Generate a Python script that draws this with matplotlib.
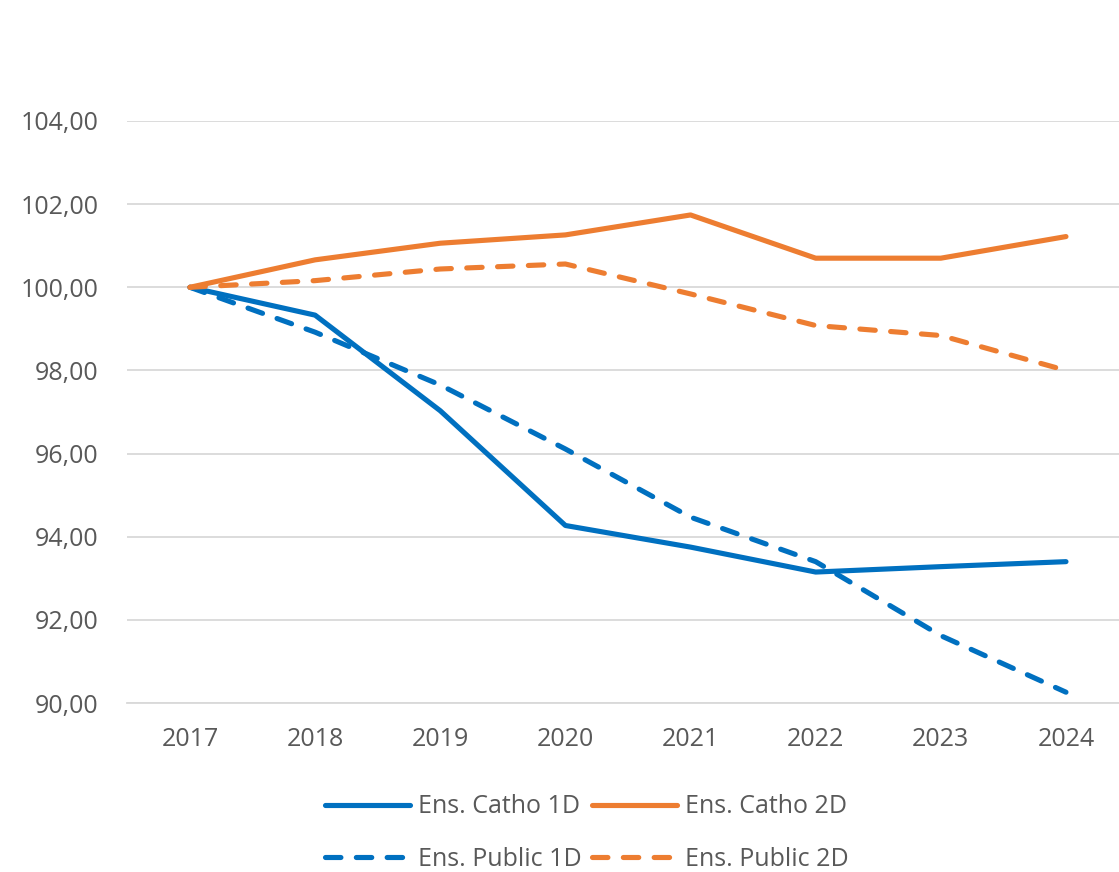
import matplotlib.pyplot as plt
from matplotlib.ticker import FuncFormatter

# données (base 100 en 2017)
annees = ["2017", "2018", "2019", "2020", "2021", "2022", "2023", "2024"]
catho_1d = [100.00, 99.33, 97.03, 94.27, 93.75, 93.15, 93.28, 93.40]
catho_2d = [100.00, 100.66, 101.06, 101.26, 101.74, 100.70, 100.70, 101.22]
public_1d = [100.00, 98.92, 97.65, 96.11, 94.47, 93.40, 91.62, 90.26]
public_2d = [100.00, 100.16, 100.44, 100.56, 99.84, 99.08, 98.84, 98.00]

bleu = "#0070C0"
orange = "#ED7D31"
gris_txt = "#595959"
gris_grille = "#D9D9D9"

plt.rcParams['font.family'] = ['Open Sans', 'DejaVu Sans']

fig = plt.figure(figsize=(11.19, 8.72), dpi=100)
ax = fig.add_axes([127.4 / 1119, 1 - 703 / 872, 1 - 127.4 / 1119, (703 - 121) / 872])

x = range(len(annees))
tirets = (0, (3, 3))
ax.plot(x, catho_1d, color=bleu, lw=3.7, label="Ens. Catho 1D", solid_capstyle='round')
ax.plot(x, public_1d, color=bleu, lw=3.7, ls=tirets, dash_capstyle='round', label="Ens. Public 1D")
ax.plot(x, catho_2d, color=orange, lw=3.7, label="Ens. Catho 2D", solid_capstyle='round')
ax.plot(x, public_2d, color=orange, lw=3.7, ls=tirets, dash_capstyle='round', label="Ens. Public 2D")

ax.set_xlim(-0.5, (1119 - 190) / 125.14)
ax.set_ylim(90, 104)
ax.set_yticks(range(90, 105, 2))
ax.yaxis.set_major_formatter(FuncFormatter(lambda v, p: f"{v:.2f}".replace(".", ",")))
ax.set_xticks(list(x))
ax.set_xticklabels(annees)
ax.tick_params(length=0, labelsize=18, colors=gris_txt)
ax.tick_params(axis='y', pad=21)
ax.tick_params(axis='x', pad=17)
ax.grid(axis='y', color=gris_grille, lw=1.3)
ax.set_axisbelow(True)
for s in ['top', 'right', 'left']:
    ax.spines[s].set_visible(False)
ax.spines['bottom'].set_color(gris_grille)
ax.spines['bottom'].set_linewidth(1.3)

leg = fig.legend(loc='center', bbox_to_anchor=(587 / 1119, 1 - 833 / 872), ncol=2,
                 frameon=False, fontsize=18, handlelength=3.4, handletextpad=0.32,
                 columnspacing=0.4, labelspacing=1.1, labelcolor=gris_txt)

fig.savefig("out.png", dpi=100, facecolor="white")
